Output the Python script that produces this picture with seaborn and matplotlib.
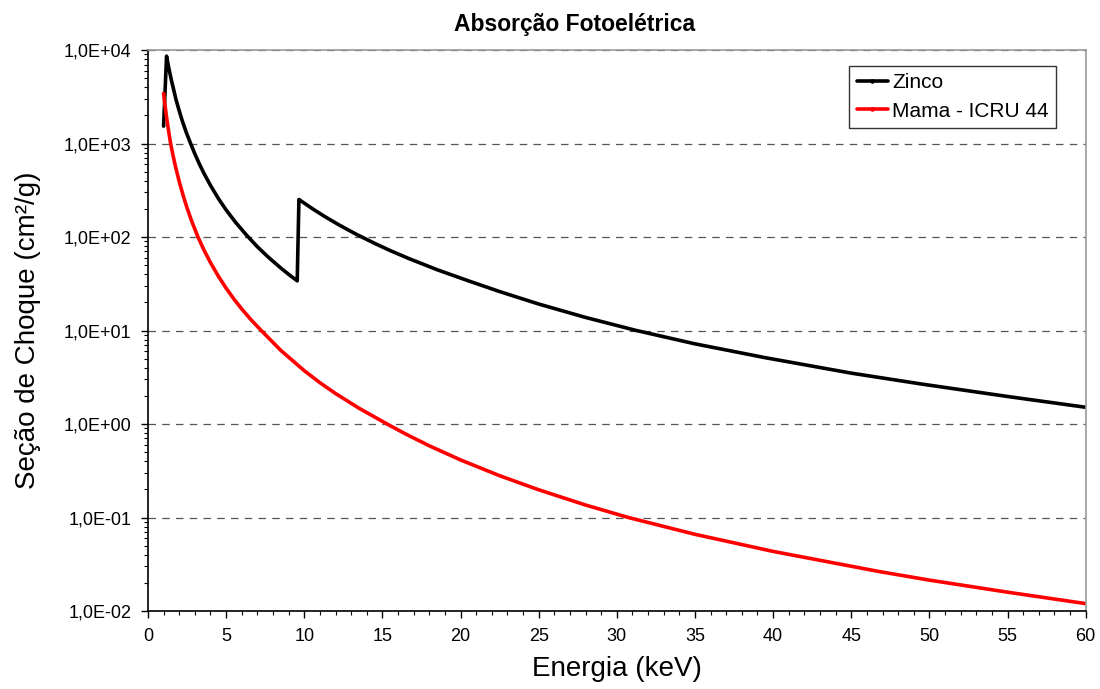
import numpy as np
import pandas as pd
import matplotlib
matplotlib.use("Agg")
import matplotlib.pyplot as plt
from matplotlib.ticker import FixedLocator, FuncFormatter, MultipleLocator, LogLocator, NullFormatter
import seaborn as sns

# Zinco - photoelectric cross section (cm2/g)
zinco_energy = [1.0, 1.19, 1.3, 1.4, 1.5, 1.65, 1.8, 2.0, 2.2, 2.45, 2.73, 3.0, 3.3, 3.6,
                4.0, 4.5, 5.0, 5.6, 6.3, 7.0, 7.7, 8.5, 9.1, 9.55,
                9.66, 10.5, 11.3, 12.2, 13.3, 14.5, 15.5, 16.7, 18.5, 20.5, 22.5, 25.0,
                28.0, 31.2, 35.0, 39.5, 45.0, 49.6, 55.0, 60.0]
zinco_sigma = [1535, 8600, 6860, 5690, 4750, 3740, 2930, 2240, 1740, 1316, 1000, 775, 599, 474,
               357, 259, 195, 144, 105, 78.7, 60.9, 46.6, 38.7, 34.0,
               252, 202, 166, 135.5, 107.6, 85.6, 71.6, 58.8, 44.7, 34.0, 26.1, 19.2,
               13.8, 10.05, 7.2, 5.12, 3.5, 2.66, 1.97, 1.51]

# Mama - ICRU 44
mama_energy = [1.0, 1.1, 1.2, 1.3, 1.45, 1.6, 1.75, 2.0, 2.25, 2.5, 2.8, 3.2, 3.6, 4.0,
               4.5, 5.0, 5.5, 6.0, 6.6, 7.25, 8.5, 10.0, 11.0, 12.0, 13.5, 15.3, 16.5,
               18.0, 20.0, 22.5, 25.0, 28.0, 30.7, 35.0, 40.0, 46.8, 50.0, 55.0, 60.0]
mama_sigma = [3435, 2500, 1870, 1437, 1000, 751, 579, 392, 279, 205, 147.5, 100, 71.7, 53.3,
              38.2, 28.4, 21.7, 17.0, 13.0, 10.0, 6.13, 3.72, 2.77, 2.12, 1.477, 1.0, 0.78,
              0.585, 0.413, 0.280, 0.198, 0.136, 0.1004, 0.0661, 0.0434, 0.0264, 0.0214,
              0.0159, 0.012]

series_names = ["Zinco", "Mama - ICRU 44"]
series_colors = ["#000000", "#ff0000"]

df = pd.concat([
    pd.DataFrame({"Energia": zinco_energy, "Sigma": zinco_sigma, "Material": series_names[0]}),
    pd.DataFrame({"Energia": mama_energy, "Sigma": mama_sigma, "Material": series_names[1]}),
], ignore_index=True)

sns.set_style("white")
plt.rcParams["font.family"] = ["Liberation Sans", "DejaVu Sans"]
plt.rcParams["text.color"] = "black"
plt.rcParams["axes.labelcolor"] = "black"
plt.rcParams["xtick.color"] = "black"
plt.rcParams["ytick.color"] = "black"

fig = plt.figure(figsize=(11, 6.89), dpi=100)
ax = fig.add_axes([0.1345, 0.1132, 0.8525, 0.8142])

sns.lineplot(data=df, x="Energia", y="Sigma", hue="Material", hue_order=series_names,
             palette=series_colors, linewidth=2.6, sort=False, estimator=None, ax=ax)

ax.set_yscale("log")
ax.set_xlim(0, 60)
ax.set_ylim(1e-2, 1e4)

# axis ticks, Excel-like
ax.xaxis.set_major_locator(MultipleLocator(5))
ax.xaxis.set_minor_locator(MultipleLocator(1))
ax.yaxis.set_major_locator(FixedLocator([10.0 ** e for e in range(-2, 5)]))
ax.yaxis.set_major_formatter(FuncFormatter(lambda v, p: "1,0E%+03d" % int(round(np.log10(v)))))
ax.yaxis.set_minor_locator(LogLocator(base=10, subs=np.arange(2, 10)))
ax.yaxis.set_minor_formatter(NullFormatter())
ax.tick_params(axis="both", which="major", direction="out", length=5, width=1,
               labelsize=13, color="black", pad=7, bottom=True, left=True)
ax.tick_params(axis="both", which="minor", direction="out", length=3, width=0.8,
               color="black", bottom=True, left=True)

ax.grid(axis="y", which="major", linestyle=(0, (6, 5)), color="#555555", linewidth=0.9)
ax.grid(axis="x", visible=False)

for side in ["left", "bottom"]:
    ax.spines[side].set_color("black")
    ax.spines[side].set_linewidth(1.2)
for side in ["top", "right"]:
    ax.spines[side].set_color("#999999")
    ax.spines[side].set_linewidth(1.2)

ax.set_xlabel("Energia (keV)", fontsize=20, labelpad=8)
ax.set_ylabel("Seção de Choque (cm²/g)", fontsize=20, labelpad=16)
fig.text(575 / 1100, 1 - 25 / 689, "Absorção Fotoelétrica", fontsize=16.5,
         fontweight="bold", ha="center", va="center")

leg = ax.legend(loc="upper right", bbox_to_anchor=(1056 / 1100, 1 - 66 / 689),
                bbox_transform=fig.transFigure, fontsize=15, frameon=True, fancybox=False,
                borderpad=0.35, handlelength=1.5, handletextpad=0.2, labelspacing=0.45,
                borderaxespad=0)
leg.get_frame().set_edgecolor("black")
leg.get_frame().set_linewidth(1.0)
for line, col in zip(leg.get_lines(), series_colors):
    line.set_linewidth(2.6)
    line.set_marker("o")
    line.set_markersize(2.5)
    line.set_markeredgecolor(col)
    line.set_markerfacecolor(col)

fig.savefig("out.png", dpi=100)
